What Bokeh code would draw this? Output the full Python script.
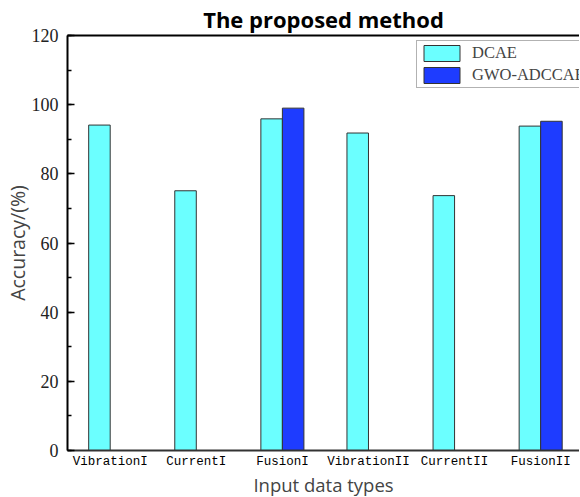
from bokeh.plotting import figure
from bokeh.models import (Range1d, FixedTicker, SingleIntervalTicker, LinearAxis,
                          ColumnDataSource, Legend, LegendItem)
from bokeh.transform import dodge
from bokeh.embed import file_html
from bokeh.resources import INLINE

categories = ["VibrationI", "CurrentI", "FusionI", "VibrationII", "CurrentII", "FusionII"]
dcae = [94.1, 75.1, 95.9, 91.8, 73.7, 93.8]
gwo_adccae = [None, None, 99.0, None, None, 95.2]
series_names = ["DCAE", "GWO-ADCCAE"]

CYAN = "#6BFFFF"
BLUE = "#1E3CFF"

idx = list(range(len(categories)))
src1 = ColumnDataSource(dict(x=idx, y=dcae))
gx = [i for i, v in zip(idx, gwo_adccae) if v is not None]
gy = [v for v in gwo_adccae if v is not None]
src2 = ColumnDataSource(dict(x=gx, y=gy))

p = figure(frame_width=512, frame_height=415, output_backend="svg", toolbar_location=None,
           x_range=Range1d(-0.496, 5.451), y_range=Range1d(0, 120),
           min_border_left=0, min_border_right=0, min_border_top=0, min_border_bottom=0)

p.title.text = "The proposed method"
p.title.align = "center"
p.title.text_font = "Open Sans"
p.title.text_font_style = "bold"
p.title.text_font_size = "22px"
p.title.text_color = "black"
p.title.standoff = 3

bw = 0.25
r1 = p.vbar(x=dodge("x", -bw / 2, range=p.x_range), top="y", width=bw, bottom=0, source=src1,
            fill_color=CYAN, line_color="#333333", line_width=1)
r2 = p.vbar(x=dodge("x", bw / 2, range=p.x_range), top="y", width=bw, bottom=0, source=src2,
            fill_color=BLUE, line_color="#333333", line_width=1)

p.grid.visible = False
p.outline_line_color = None
p.background_fill_color = "white"

xa = p.xaxis[0]
xa.ticker = FixedTicker(ticks=idx)
xa.major_label_overrides = {i: c for i, c in zip(idx, categories)}
xa.major_tick_line_color = None
xa.minor_tick_line_color = None
xa.major_tick_out = 0
xa.major_tick_in = 0
xa.minor_tick_out = 0
xa.minor_tick_in = 0
xa.axis_line_width = 2
xa.axis_line_color = "#333333"
xa.major_label_text_font = "Liberation Mono"
xa.major_label_text_font_size = "12.5px"
xa.major_label_text_color = "black"
xa.major_label_standoff = 4
xa.axis_label = "Input data types"
xa.axis_label_text_font = "Open Sans"
xa.axis_label_text_font_style = "normal"
xa.axis_label_text_font_size = "18.5px"
xa.axis_label_standoff = 0

ya = p.yaxis[0]
ya.ticker = SingleIntervalTicker(interval=20, num_minor_ticks=2)
ya.axis_line_width = 2
ya.axis_line_color = "black"
ya.major_tick_in = 7
ya.major_tick_out = 0
ya.minor_tick_in = 4
ya.minor_tick_out = 0
ya.major_tick_line_width = 1.5
ya.minor_tick_line_width = 1.5
ya.major_label_text_font = "Liberation Serif"
ya.major_label_text_font_size = "18px"
ya.major_label_text_color = "#222222"
ya.major_label_standoff = 9
ya.axis_label = "Accuracy/(%)"
ya.axis_label_text_font = "Open Sans"
ya.axis_label_text_font_style = "normal"
ya.axis_label_text_font_size = "19.5px"
ya.axis_label_standoff = -2

top_axis = LinearAxis(ticker=FixedTicker(ticks=[]), axis_line_width=2, axis_line_color="black",
                      major_tick_line_color=None, minor_tick_line_color=None,
                      major_tick_in=0, major_tick_out=0, minor_tick_in=0, minor_tick_out=0,
                      major_label_standoff=0, major_label_text_font_size="0px")
p.add_layout(top_axis, "above")

legend = Legend(items=[LegendItem(label=series_names[0], renderers=[r1]),
                       LegendItem(label=series_names[1], renderers=[r2])],
                location=(349, 362), orientation="vertical",
                glyph_width=45, glyph_height=20, label_height=20, label_standoff=8,
                label_text_font="Liberation Serif", label_text_font_size="16.5px",
                padding=2, spacing=2, margin=0,
                border_line_color="#666666", border_line_width=1,
                background_fill_alpha=1)
p.add_layout(legend, "center")

open("out.html", "w").write(file_html(p, INLINE))
